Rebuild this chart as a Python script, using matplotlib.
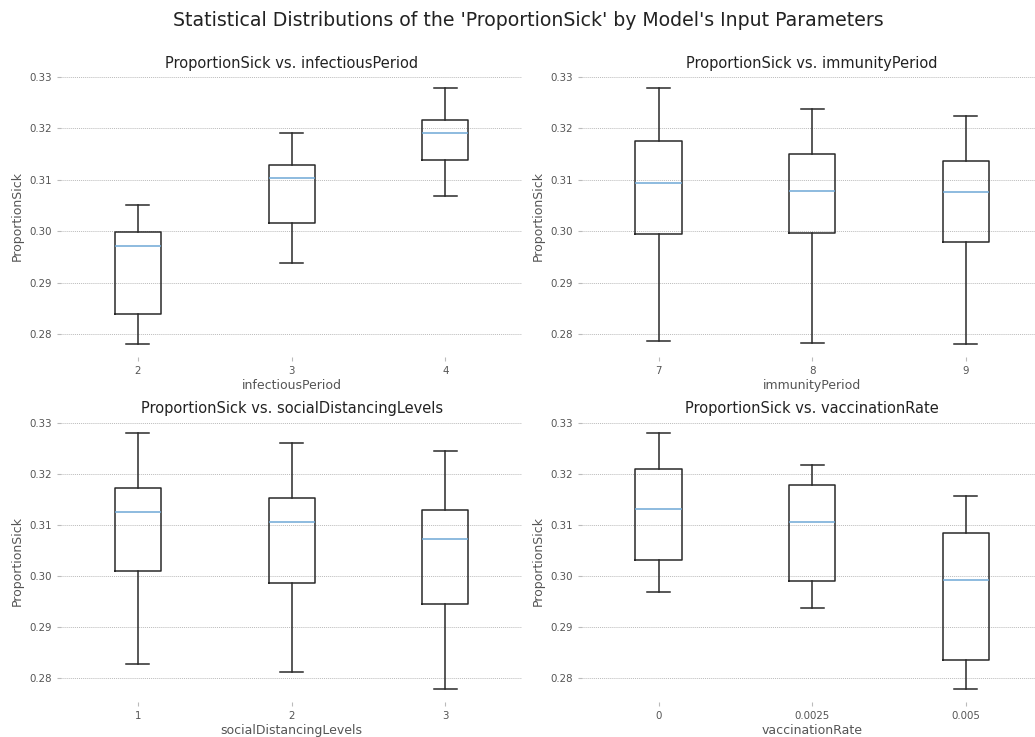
import matplotlib
matplotlib.use("Agg")
import matplotlib.pyplot as plt

# boxplot stats: (whisker low, q1, median, q3, whisker high)
infectious_labels = ["2", "3", "4"]
infectious_low = [0.2780, 0.2938, 0.3069]
infectious_q1 = [0.2838, 0.3016, 0.3139]
infectious_med = [0.2971, 0.3104, 0.3192]
infectious_q3 = [0.2999, 0.3128, 0.3216]
infectious_high = [0.3051, 0.3192, 0.3279]

immunity_labels = ["7", "8", "9"]
immunity_low = [0.2787, 0.2782, 0.2780]
immunity_q1 = [0.2994, 0.2996, 0.2978]
immunity_med = [0.3093, 0.3079, 0.3077]
immunity_q3 = [0.3175, 0.3150, 0.3136]
immunity_high = [0.3279, 0.3238, 0.3224]

social_labels = ["1", "2", "3"]
social_low = [0.2828, 0.2811, 0.2778]
social_q1 = [0.3009, 0.2985, 0.2944]
social_med = [0.3125, 0.3105, 0.3072]
social_q3 = [0.3172, 0.3152, 0.3129]
social_high = [0.3280, 0.3261, 0.3244]

vacc_labels = ["0", "0.0025", "0.005"]
vacc_low = [0.2969, 0.2937, 0.2778]
vacc_q1 = [0.3031, 0.2990, 0.2836]
vacc_med = [0.3131, 0.3105, 0.2992]
vacc_q3 = [0.3210, 0.3177, 0.3084]
vacc_high = [0.3280, 0.3217, 0.3156]

paneles = [
    ("infectiousPeriod", infectious_labels, infectious_low, infectious_q1,
     infectious_med, infectious_q3, infectious_high),
    ("immunityPeriod", immunity_labels, immunity_low, immunity_q1,
     immunity_med, immunity_q3, immunity_high),
    ("socialDistancingLevels", social_labels, social_low, social_q1,
     social_med, social_q3, social_high),
    ("vaccinationRate", vacc_labels, vacc_low, vacc_q1,
     vacc_med, vacc_q3, vacc_high),
]

# axes positions in figure fraction [left, bottom, width, height]
posiciones = [
    [0.059, 0.5156, 0.4455, 0.3826],
    [0.562, 0.5156, 0.4455, 0.3826],
    [0.059, 0.0475, 0.4455, 0.3826],
    [0.562, 0.0475, 0.4455, 0.3826],
]

gris = "#555555"
fig = plt.figure(figsize=(10.35, 7.37), dpi=100)
fig.suptitle("Statistical Distributions of the 'ProportionSick' by Model's Input Parameters",
             fontsize=13.6, x=0.51, y=0.985, color="#222222")

for pos, (nombre, etiquetas, low, q1, med, q3, high) in zip(posiciones, paneles):
    ax = fig.add_axes(pos)
    stats = []
    for i in range(len(etiquetas)):
        stats.append({
            "whislo": low[i], "q1": q1[i], "med": med[i],
            "q3": q3[i], "whishi": high[i], "fliers": [],
        })
    ax.bxp(stats, positions=[1, 2, 3], showfliers=False,
           boxprops=dict(color="#2a2a2a", linewidth=1.1),
           whiskerprops=dict(color="#2a2a2a", linewidth=1.1),
           capprops=dict(color="#2a2a2a", linewidth=1.1),
           medianprops=dict(color="#6fa8d6", linewidth=1.1))
    ax.set_xticks([1, 2, 3])
    ax.set_xticklabels(etiquetas)
    ax.set_yticks([0.28, 0.29, 0.30, 0.31, 0.32, 0.33])
    ax.set_yticklabels(["0.28", "0.29", "0.30", "0.31", "0.32", "0.33"])
    ax.set_title(f"ProportionSick vs. {nombre}", fontsize=10.5, color="#222222", pad=5)
    ax.set_xlabel(nombre, fontsize=9, color=gris, labelpad=2)
    ax.set_ylabel("ProportionSick", fontsize=9, color=gris, labelpad=4)
    ax.tick_params(axis="both", labelsize=7.4, colors="#bbbbbb", labelcolor=gris,
                   length=3)
    ax.grid(axis="y", linestyle=(0, (1, 1)), color="#bbbbbb", linewidth=0.7)
    ax.set_axisbelow(True)
    for s in ax.spines.values():
        s.set_visible(False)

plt.savefig("out.png", dpi=100)
